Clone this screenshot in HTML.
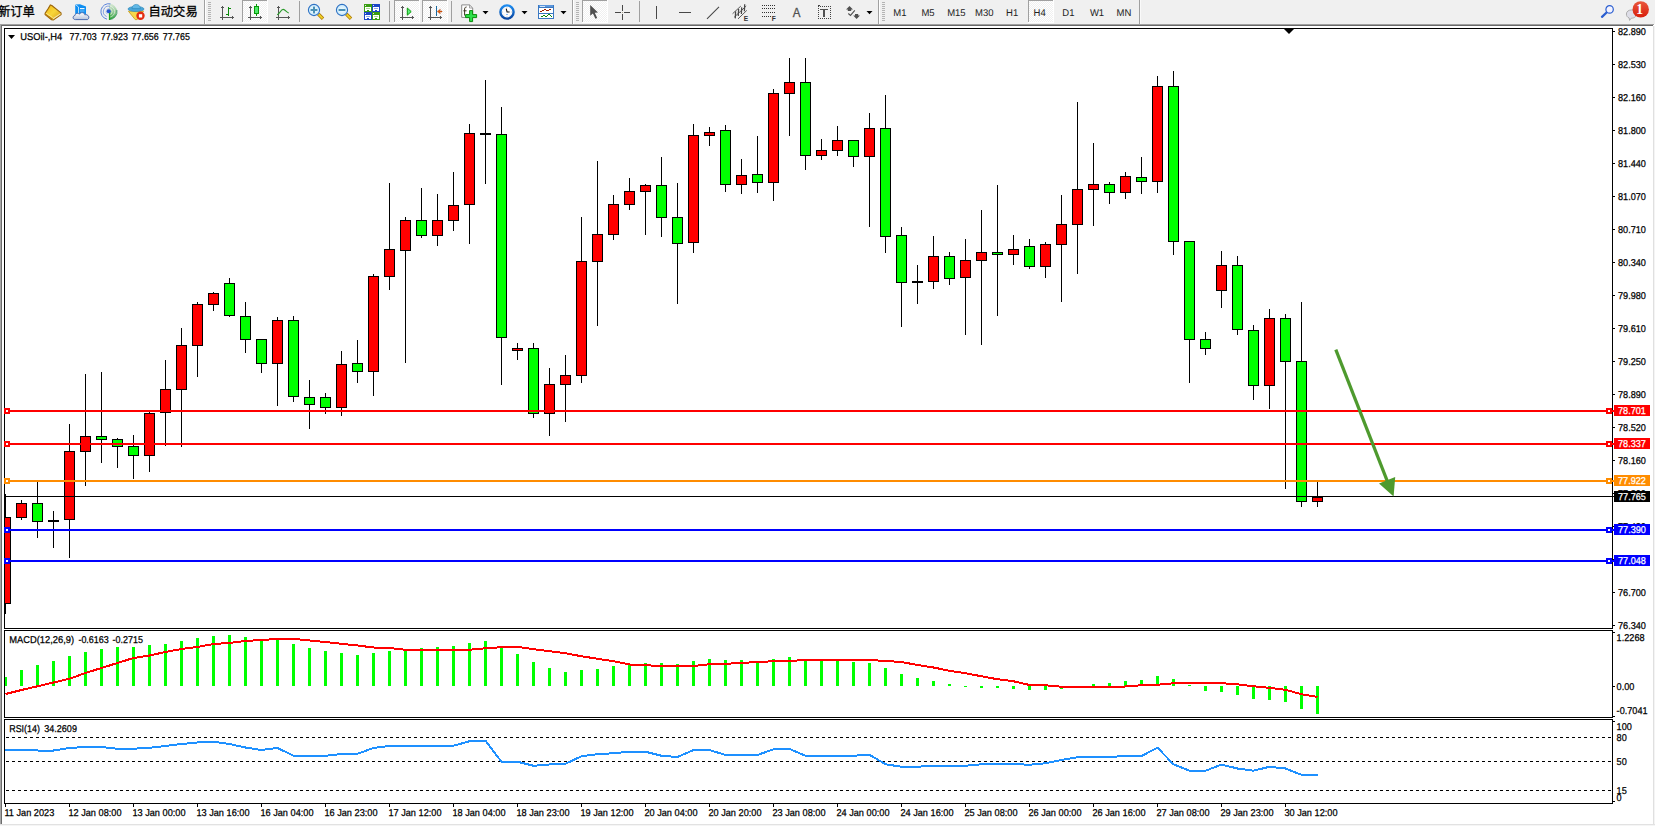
<!DOCTYPE html>
<html lang="zh"><head><meta charset="utf-8"><title>USOil H4</title>
<style>
html,body{margin:0;padding:0;background:#fff;overflow:hidden}
body{width:1655px;height:826px;position:relative;font-family:"Liberation Sans","Noto Sans CJK SC",sans-serif}
svg{position:absolute;left:0;top:0;display:block}
.t{text-rendering:geometricPrecision;stroke:#000;stroke-width:.25px;font-family:"Liberation Sans","Noto Sans CJK SC",sans-serif;font-size:9.9px;fill:#000}
.w{fill:#fff;stroke:#fff}
.cj{stroke:#000;stroke-width:.3px;font-family:"Liberation Sans","Noto Sans CJK SC",sans-serif;font-size:12.3px;fill:#000}
.tf{text-rendering:geometricPrecision;font-family:"Liberation Sans","Noto Sans CJK SC",sans-serif;font-size:9.8px;fill:#222}
</style></head><body>
<svg width="1655" height="826" viewBox="0 0 1655 826">

<g shape-rendering="crispEdges">
<rect x="0" y="0" width="1655" height="826" fill="#ffffff"/>
<rect x="0" y="0" width="1655" height="24" fill="#f0f0f0"/>
<rect x="0" y="24" width="1654" height="1" fill="#a0a0a0"/>
<rect x="0" y="25" width="1653" height="1" fill="#686868"/>
<rect x="0" y="25" width="1" height="801" fill="#a6a6a6"/><rect x="1" y="25" width="1" height="801" fill="#6d6d6d"/>
<rect x="1653" y="26" width="1" height="800" fill="#e0e0e0"/>
<rect x="1654" y="26" width="1" height="800" fill="#f4f4f4"/>
<rect x="0" y="824" width="1655" height="1" fill="#e2e2e2"/>
<rect x="0" y="825" width="1655" height="1" fill="#f5f5f5"/>
<rect x="4" y="28" width="1609" height="1" fill="#000"/>
<rect x="4" y="28" width="1" height="776" fill="#000"/>
<rect x="1612" y="28" width="1" height="776" fill="#000"/>
<rect x="4" y="628" width="1609" height="1" fill="#000"/>
<rect x="4" y="629" width="1609" height="1" fill="#fff"/>
<rect x="4" y="630" width="1609" height="1" fill="#000"/>
<rect x="4" y="717" width="1609" height="1" fill="#000"/>
<rect x="4" y="718" width="1609" height="1" fill="#fff"/>
<rect x="4" y="719" width="1609" height="1" fill="#000"/>
<rect x="4" y="803" width="1609" height="1" fill="#000"/>
</g>
<g shape-rendering="crispEdges">
<rect x="5" y="494" width="1" height="120" fill="#000"/>
<rect x="5" y="517" width="6" height="87" fill="#000"/>
<rect x="5" y="518" width="5" height="85" fill="#ff0000"/>
<rect x="21" y="500" width="1" height="20" fill="#000"/>
<rect x="16" y="503" width="11" height="15" fill="#000"/>
<rect x="17" y="504" width="9" height="13" fill="#ff0000"/>
<rect x="37" y="481" width="1" height="57" fill="#000"/>
<rect x="32" y="503" width="11" height="19" fill="#000"/>
<rect x="33" y="504" width="9" height="17" fill="#00ff00"/>
<rect x="53" y="511" width="1" height="37" fill="#000"/>
<rect x="48" y="520" width="11" height="2" fill="#000"/>
<rect x="69" y="424" width="1" height="134" fill="#000"/>
<rect x="64" y="451" width="11" height="69" fill="#000"/>
<rect x="65" y="452" width="9" height="67" fill="#ff0000"/>
<rect x="85" y="374" width="1" height="112" fill="#000"/>
<rect x="80" y="436" width="11" height="16" fill="#000"/>
<rect x="81" y="437" width="9" height="14" fill="#ff0000"/>
<rect x="101" y="372" width="1" height="91" fill="#000"/>
<rect x="96" y="436" width="11" height="4" fill="#000"/>
<rect x="97" y="437" width="9" height="2" fill="#00ff00"/>
<rect x="117" y="438" width="1" height="30" fill="#000"/>
<rect x="112" y="439" width="11" height="8" fill="#000"/>
<rect x="113" y="440" width="9" height="6" fill="#00ff00"/>
<rect x="133" y="435" width="1" height="44" fill="#000"/>
<rect x="128" y="446" width="11" height="10" fill="#000"/>
<rect x="129" y="447" width="9" height="8" fill="#00ff00"/>
<rect x="149" y="412" width="1" height="60" fill="#000"/>
<rect x="144" y="413" width="11" height="43" fill="#000"/>
<rect x="145" y="414" width="9" height="41" fill="#ff0000"/>
<rect x="165" y="360" width="1" height="86" fill="#000"/>
<rect x="160" y="389" width="11" height="24" fill="#000"/>
<rect x="161" y="390" width="9" height="22" fill="#ff0000"/>
<rect x="181" y="328" width="1" height="119" fill="#000"/>
<rect x="176" y="345" width="11" height="45" fill="#000"/>
<rect x="177" y="346" width="9" height="43" fill="#ff0000"/>
<rect x="197" y="302" width="1" height="75" fill="#000"/>
<rect x="192" y="304" width="11" height="42" fill="#000"/>
<rect x="193" y="305" width="9" height="40" fill="#ff0000"/>
<rect x="213" y="292" width="1" height="19" fill="#000"/>
<rect x="208" y="293" width="11" height="12" fill="#000"/>
<rect x="209" y="294" width="9" height="10" fill="#ff0000"/>
<rect x="229" y="278" width="1" height="39" fill="#000"/>
<rect x="224" y="283" width="11" height="33" fill="#000"/>
<rect x="225" y="284" width="9" height="31" fill="#00ff00"/>
<rect x="245" y="302" width="1" height="51" fill="#000"/>
<rect x="240" y="316" width="11" height="24" fill="#000"/>
<rect x="241" y="317" width="9" height="22" fill="#00ff00"/>
<rect x="261" y="339" width="1" height="34" fill="#000"/>
<rect x="256" y="339" width="11" height="25" fill="#000"/>
<rect x="257" y="340" width="9" height="23" fill="#00ff00"/>
<rect x="277" y="317" width="1" height="89" fill="#000"/>
<rect x="272" y="320" width="11" height="44" fill="#000"/>
<rect x="273" y="321" width="9" height="42" fill="#ff0000"/>
<rect x="293" y="316" width="1" height="86" fill="#000"/>
<rect x="288" y="320" width="11" height="77" fill="#000"/>
<rect x="289" y="321" width="9" height="75" fill="#00ff00"/>
<rect x="309" y="380" width="1" height="49" fill="#000"/>
<rect x="304" y="397" width="11" height="8" fill="#000"/>
<rect x="305" y="398" width="9" height="6" fill="#00ff00"/>
<rect x="325" y="393" width="1" height="21" fill="#000"/>
<rect x="320" y="397" width="11" height="11" fill="#000"/>
<rect x="321" y="398" width="9" height="9" fill="#00ff00"/>
<rect x="341" y="351" width="1" height="65" fill="#000"/>
<rect x="336" y="364" width="11" height="44" fill="#000"/>
<rect x="337" y="365" width="9" height="42" fill="#ff0000"/>
<rect x="357" y="340" width="1" height="43" fill="#000"/>
<rect x="352" y="363" width="11" height="9" fill="#000"/>
<rect x="353" y="364" width="9" height="7" fill="#00ff00"/>
<rect x="373" y="274" width="1" height="122" fill="#000"/>
<rect x="368" y="276" width="11" height="96" fill="#000"/>
<rect x="369" y="277" width="9" height="94" fill="#ff0000"/>
<rect x="389" y="183" width="1" height="107" fill="#000"/>
<rect x="384" y="249" width="11" height="28" fill="#000"/>
<rect x="385" y="250" width="9" height="26" fill="#ff0000"/>
<rect x="405" y="217" width="1" height="146" fill="#000"/>
<rect x="400" y="220" width="11" height="31" fill="#000"/>
<rect x="401" y="221" width="9" height="29" fill="#ff0000"/>
<rect x="421" y="188" width="1" height="50" fill="#000"/>
<rect x="416" y="220" width="11" height="16" fill="#000"/>
<rect x="417" y="221" width="9" height="14" fill="#00ff00"/>
<rect x="437" y="194" width="1" height="52" fill="#000"/>
<rect x="432" y="220" width="11" height="16" fill="#000"/>
<rect x="433" y="221" width="9" height="14" fill="#ff0000"/>
<rect x="453" y="172" width="1" height="59" fill="#000"/>
<rect x="448" y="205" width="11" height="16" fill="#000"/>
<rect x="449" y="206" width="9" height="14" fill="#ff0000"/>
<rect x="469" y="124" width="1" height="120" fill="#000"/>
<rect x="464" y="133" width="11" height="72" fill="#000"/>
<rect x="465" y="134" width="9" height="70" fill="#ff0000"/>
<rect x="485" y="80" width="1" height="104" fill="#000"/>
<rect x="480" y="133" width="11" height="2" fill="#000"/>
<rect x="501" y="107" width="1" height="278" fill="#000"/>
<rect x="496" y="134" width="11" height="204" fill="#000"/>
<rect x="497" y="135" width="9" height="202" fill="#00ff00"/>
<rect x="517" y="343" width="1" height="17" fill="#000"/>
<rect x="512" y="348" width="11" height="3" fill="#000"/>
<rect x="513" y="349" width="9" height="1" fill="#ff0000"/>
<rect x="533" y="343" width="1" height="75" fill="#000"/>
<rect x="528" y="348" width="11" height="66" fill="#000"/>
<rect x="529" y="349" width="9" height="64" fill="#00ff00"/>
<rect x="549" y="368" width="1" height="68" fill="#000"/>
<rect x="544" y="384" width="11" height="30" fill="#000"/>
<rect x="545" y="385" width="9" height="28" fill="#ff0000"/>
<rect x="565" y="355" width="1" height="67" fill="#000"/>
<rect x="560" y="375" width="11" height="10" fill="#000"/>
<rect x="561" y="376" width="9" height="8" fill="#ff0000"/>
<rect x="581" y="217" width="1" height="166" fill="#000"/>
<rect x="576" y="261" width="11" height="115" fill="#000"/>
<rect x="577" y="262" width="9" height="113" fill="#ff0000"/>
<rect x="597" y="161" width="1" height="165" fill="#000"/>
<rect x="592" y="234" width="11" height="28" fill="#000"/>
<rect x="593" y="235" width="9" height="26" fill="#ff0000"/>
<rect x="613" y="195" width="1" height="45" fill="#000"/>
<rect x="608" y="204" width="11" height="31" fill="#000"/>
<rect x="609" y="205" width="9" height="29" fill="#ff0000"/>
<rect x="629" y="178" width="1" height="32" fill="#000"/>
<rect x="624" y="191" width="11" height="14" fill="#000"/>
<rect x="625" y="192" width="9" height="12" fill="#ff0000"/>
<rect x="645" y="184" width="1" height="51" fill="#000"/>
<rect x="640" y="185" width="11" height="7" fill="#000"/>
<rect x="641" y="186" width="9" height="5" fill="#ff0000"/>
<rect x="661" y="157" width="1" height="80" fill="#000"/>
<rect x="656" y="185" width="11" height="33" fill="#000"/>
<rect x="657" y="186" width="9" height="31" fill="#00ff00"/>
<rect x="677" y="183" width="1" height="121" fill="#000"/>
<rect x="672" y="217" width="11" height="27" fill="#000"/>
<rect x="673" y="218" width="9" height="25" fill="#00ff00"/>
<rect x="693" y="124" width="1" height="129" fill="#000"/>
<rect x="688" y="135" width="11" height="108" fill="#000"/>
<rect x="689" y="136" width="9" height="106" fill="#ff0000"/>
<rect x="709" y="127" width="1" height="19" fill="#000"/>
<rect x="704" y="132" width="11" height="4" fill="#000"/>
<rect x="705" y="133" width="9" height="2" fill="#ff0000"/>
<rect x="725" y="125" width="1" height="67" fill="#000"/>
<rect x="720" y="130" width="11" height="55" fill="#000"/>
<rect x="721" y="131" width="9" height="53" fill="#00ff00"/>
<rect x="741" y="159" width="1" height="35" fill="#000"/>
<rect x="736" y="175" width="11" height="10" fill="#000"/>
<rect x="737" y="176" width="9" height="8" fill="#ff0000"/>
<rect x="757" y="136" width="1" height="57" fill="#000"/>
<rect x="752" y="174" width="11" height="9" fill="#000"/>
<rect x="753" y="175" width="9" height="7" fill="#00ff00"/>
<rect x="773" y="89" width="1" height="112" fill="#000"/>
<rect x="768" y="93" width="11" height="90" fill="#000"/>
<rect x="769" y="94" width="9" height="88" fill="#ff0000"/>
<rect x="789" y="58" width="1" height="78" fill="#000"/>
<rect x="784" y="82" width="11" height="12" fill="#000"/>
<rect x="785" y="83" width="9" height="10" fill="#ff0000"/>
<rect x="805" y="58" width="1" height="112" fill="#000"/>
<rect x="800" y="82" width="11" height="74" fill="#000"/>
<rect x="801" y="83" width="9" height="72" fill="#00ff00"/>
<rect x="821" y="139" width="1" height="21" fill="#000"/>
<rect x="816" y="150" width="11" height="6" fill="#000"/>
<rect x="817" y="151" width="9" height="4" fill="#ff0000"/>
<rect x="837" y="126" width="1" height="30" fill="#000"/>
<rect x="832" y="140" width="11" height="11" fill="#000"/>
<rect x="833" y="141" width="9" height="9" fill="#ff0000"/>
<rect x="853" y="140" width="1" height="27" fill="#000"/>
<rect x="848" y="140" width="11" height="17" fill="#000"/>
<rect x="849" y="141" width="9" height="15" fill="#00ff00"/>
<rect x="869" y="113" width="1" height="114" fill="#000"/>
<rect x="864" y="128" width="11" height="29" fill="#000"/>
<rect x="865" y="129" width="9" height="27" fill="#ff0000"/>
<rect x="885" y="95" width="1" height="158" fill="#000"/>
<rect x="880" y="128" width="11" height="109" fill="#000"/>
<rect x="881" y="129" width="9" height="107" fill="#00ff00"/>
<rect x="901" y="227" width="1" height="100" fill="#000"/>
<rect x="896" y="235" width="11" height="48" fill="#000"/>
<rect x="897" y="236" width="9" height="46" fill="#00ff00"/>
<rect x="917" y="265" width="1" height="39" fill="#000"/>
<rect x="912" y="281" width="11" height="2" fill="#000"/>
<rect x="933" y="236" width="1" height="53" fill="#000"/>
<rect x="928" y="256" width="11" height="26" fill="#000"/>
<rect x="929" y="257" width="9" height="24" fill="#ff0000"/>
<rect x="949" y="252" width="1" height="33" fill="#000"/>
<rect x="944" y="256" width="11" height="23" fill="#000"/>
<rect x="945" y="257" width="9" height="21" fill="#00ff00"/>
<rect x="965" y="239" width="1" height="96" fill="#000"/>
<rect x="960" y="260" width="11" height="18" fill="#000"/>
<rect x="961" y="261" width="9" height="16" fill="#ff0000"/>
<rect x="981" y="210" width="1" height="135" fill="#000"/>
<rect x="976" y="252" width="11" height="9" fill="#000"/>
<rect x="977" y="253" width="9" height="7" fill="#ff0000"/>
<rect x="997" y="185" width="1" height="131" fill="#000"/>
<rect x="992" y="252" width="11" height="3" fill="#000"/>
<rect x="993" y="253" width="9" height="1" fill="#00ff00"/>
<rect x="1013" y="235" width="1" height="30" fill="#000"/>
<rect x="1008" y="249" width="11" height="6" fill="#000"/>
<rect x="1009" y="250" width="9" height="4" fill="#ff0000"/>
<rect x="1029" y="239" width="1" height="30" fill="#000"/>
<rect x="1024" y="246" width="11" height="21" fill="#000"/>
<rect x="1025" y="247" width="9" height="19" fill="#00ff00"/>
<rect x="1045" y="242" width="1" height="36" fill="#000"/>
<rect x="1040" y="244" width="11" height="23" fill="#000"/>
<rect x="1041" y="245" width="9" height="21" fill="#ff0000"/>
<rect x="1061" y="195" width="1" height="107" fill="#000"/>
<rect x="1056" y="224" width="11" height="21" fill="#000"/>
<rect x="1057" y="225" width="9" height="19" fill="#ff0000"/>
<rect x="1077" y="102" width="1" height="172" fill="#000"/>
<rect x="1072" y="189" width="11" height="36" fill="#000"/>
<rect x="1073" y="190" width="9" height="34" fill="#ff0000"/>
<rect x="1093" y="143" width="1" height="83" fill="#000"/>
<rect x="1088" y="184" width="11" height="6" fill="#000"/>
<rect x="1089" y="185" width="9" height="4" fill="#ff0000"/>
<rect x="1109" y="182" width="1" height="22" fill="#000"/>
<rect x="1104" y="184" width="11" height="9" fill="#000"/>
<rect x="1105" y="185" width="9" height="7" fill="#00ff00"/>
<rect x="1125" y="172" width="1" height="27" fill="#000"/>
<rect x="1120" y="176" width="11" height="17" fill="#000"/>
<rect x="1121" y="177" width="9" height="15" fill="#ff0000"/>
<rect x="1141" y="157" width="1" height="37" fill="#000"/>
<rect x="1136" y="177" width="11" height="5" fill="#000"/>
<rect x="1137" y="178" width="9" height="3" fill="#00ff00"/>
<rect x="1157" y="76" width="1" height="117" fill="#000"/>
<rect x="1152" y="86" width="11" height="96" fill="#000"/>
<rect x="1153" y="87" width="9" height="94" fill="#ff0000"/>
<rect x="1173" y="71" width="1" height="184" fill="#000"/>
<rect x="1168" y="86" width="11" height="156" fill="#000"/>
<rect x="1169" y="87" width="9" height="154" fill="#00ff00"/>
<rect x="1189" y="241" width="1" height="142" fill="#000"/>
<rect x="1184" y="241" width="11" height="99" fill="#000"/>
<rect x="1185" y="242" width="9" height="97" fill="#00ff00"/>
<rect x="1205" y="332" width="1" height="23" fill="#000"/>
<rect x="1200" y="339" width="11" height="10" fill="#000"/>
<rect x="1201" y="340" width="9" height="8" fill="#00ff00"/>
<rect x="1221" y="251" width="1" height="57" fill="#000"/>
<rect x="1216" y="265" width="11" height="26" fill="#000"/>
<rect x="1217" y="266" width="9" height="24" fill="#ff0000"/>
<rect x="1237" y="256" width="1" height="79" fill="#000"/>
<rect x="1232" y="265" width="11" height="65" fill="#000"/>
<rect x="1233" y="266" width="9" height="63" fill="#00ff00"/>
<rect x="1253" y="325" width="1" height="75" fill="#000"/>
<rect x="1248" y="330" width="11" height="56" fill="#000"/>
<rect x="1249" y="331" width="9" height="54" fill="#00ff00"/>
<rect x="1269" y="309" width="1" height="100" fill="#000"/>
<rect x="1264" y="318" width="11" height="68" fill="#000"/>
<rect x="1265" y="319" width="9" height="66" fill="#ff0000"/>
<rect x="1285" y="314" width="1" height="175" fill="#000"/>
<rect x="1280" y="318" width="11" height="44" fill="#000"/>
<rect x="1281" y="319" width="9" height="42" fill="#00ff00"/>
<rect x="1301" y="302" width="1" height="205" fill="#000"/>
<rect x="1296" y="361" width="11" height="141" fill="#000"/>
<rect x="1297" y="362" width="9" height="139" fill="#00ff00"/>
<rect x="1317" y="482" width="1" height="25" fill="#000"/>
<rect x="1312" y="497" width="11" height="5" fill="#000"/>
<rect x="1313" y="498" width="9" height="3" fill="#ff0000"/>
<rect x="5" y="496" width="1609" height="1" fill="#000"/>
<rect x="5" y="410" width="1609" height="2" fill="#ff0000"/>
<rect x="5" y="443" width="1609" height="2" fill="#ff0000"/>
<rect x="5" y="480" width="1609" height="2" fill="#ff8c00"/>
<rect x="5" y="529" width="1609" height="2" fill="#0000ff"/>
<rect x="5" y="560" width="1609" height="2" fill="#0000ff"/>
<rect x="4" y="408" width="6" height="6" fill="#ff0000"/><rect x="6" y="410" width="2" height="2" fill="#fff"/>
<rect x="1606" y="408" width="6" height="6" fill="#ff0000"/><rect x="1608" y="410" width="2" height="2" fill="#fff"/>
<rect x="4" y="441" width="6" height="6" fill="#ff0000"/><rect x="6" y="443" width="2" height="2" fill="#fff"/>
<rect x="1606" y="441" width="6" height="6" fill="#ff0000"/><rect x="1608" y="443" width="2" height="2" fill="#fff"/>
<rect x="4" y="478" width="6" height="6" fill="#ff8c00"/><rect x="6" y="480" width="2" height="2" fill="#fff"/>
<rect x="1606" y="478" width="6" height="6" fill="#ff8c00"/><rect x="1608" y="480" width="2" height="2" fill="#fff"/>
<rect x="4" y="527" width="6" height="6" fill="#0000ff"/><rect x="6" y="529" width="2" height="2" fill="#fff"/>
<rect x="1606" y="527" width="6" height="6" fill="#0000ff"/><rect x="1608" y="529" width="2" height="2" fill="#fff"/>
<rect x="4" y="558" width="6" height="6" fill="#0000ff"/><rect x="6" y="560" width="2" height="2" fill="#fff"/>
<rect x="1606" y="558" width="6" height="6" fill="#0000ff"/><rect x="1608" y="560" width="2" height="2" fill="#fff"/>
</g>
<g fill="#4e9a2e" stroke="none"><path d="M1334.3,350.2 L1337.3,349.0 L1389.2,481.5 L1386.2,482.7 Z"/><path d="M1393.6,496.5 L1379,483.5 L1395.2,477 Z"/></g>
<path d="M1284,29 L1294,29 L1289,34 Z" fill="#000"/>
<g shape-rendering="crispEdges">
<rect x="1613" y="31" width="2" height="1" fill="#000"/>
<rect x="1613" y="64" width="2" height="1" fill="#000"/>
<rect x="1613" y="97" width="2" height="1" fill="#000"/>
<rect x="1613" y="130" width="2" height="1" fill="#000"/>
<rect x="1613" y="163" width="2" height="1" fill="#000"/>
<rect x="1613" y="196" width="2" height="1" fill="#000"/>
<rect x="1613" y="229" width="2" height="1" fill="#000"/>
<rect x="1613" y="262" width="2" height="1" fill="#000"/>
<rect x="1613" y="295" width="2" height="1" fill="#000"/>
<rect x="1613" y="328" width="2" height="1" fill="#000"/>
<rect x="1613" y="361" width="2" height="1" fill="#000"/>
<rect x="1613" y="394" width="2" height="1" fill="#000"/>
<rect x="1613" y="427" width="2" height="1" fill="#000"/>
<rect x="1613" y="460" width="2" height="1" fill="#000"/>
<rect x="1613" y="493" width="2" height="1" fill="#000"/>
<rect x="1613" y="526" width="2" height="1" fill="#000"/>
<rect x="1613" y="559" width="2" height="1" fill="#000"/>
<rect x="1613" y="592" width="2" height="1" fill="#000"/>
<rect x="1613" y="625" width="2" height="1" fill="#000"/>
<rect x="1613" y="632" width="2" height="1" fill="#000"/>
<rect x="1613" y="686" width="2" height="1" fill="#000"/>
<rect x="1613" y="716" width="2" height="1" fill="#000"/>
<rect x="1613" y="721" width="2" height="1" fill="#000"/>
<rect x="1613" y="801" width="2" height="1" fill="#000"/>
</g>
<text class="t" transform="translate(1618,35) scale(0.925,1)" xml:space="preserve">82.890</text>
<text class="t" transform="translate(1618,68) scale(0.925,1)" xml:space="preserve">82.530</text>
<text class="t" transform="translate(1618,101) scale(0.925,1)" xml:space="preserve">82.160</text>
<text class="t" transform="translate(1618,134) scale(0.925,1)" xml:space="preserve">81.800</text>
<text class="t" transform="translate(1618,167) scale(0.925,1)" xml:space="preserve">81.440</text>
<text class="t" transform="translate(1618,200) scale(0.925,1)" xml:space="preserve">81.070</text>
<text class="t" transform="translate(1618,233) scale(0.925,1)" xml:space="preserve">80.710</text>
<text class="t" transform="translate(1618,266) scale(0.925,1)" xml:space="preserve">80.340</text>
<text class="t" transform="translate(1618,299) scale(0.925,1)" xml:space="preserve">79.980</text>
<text class="t" transform="translate(1618,332) scale(0.925,1)" xml:space="preserve">79.610</text>
<text class="t" transform="translate(1618,365) scale(0.925,1)" xml:space="preserve">79.250</text>
<text class="t" transform="translate(1618,398) scale(0.925,1)" xml:space="preserve">78.890</text>
<text class="t" transform="translate(1618,431) scale(0.925,1)" xml:space="preserve">78.520</text>
<text class="t" transform="translate(1618,464) scale(0.925,1)" xml:space="preserve">78.160</text>
<text class="t" transform="translate(1618,497) scale(0.925,1)" xml:space="preserve">77.800</text>
<text class="t" transform="translate(1618,530) scale(0.925,1)" xml:space="preserve">77.430</text>
<text class="t" transform="translate(1618,563) scale(0.925,1)" xml:space="preserve">77.070</text>
<text class="t" transform="translate(1618,596) scale(0.925,1)" xml:space="preserve">76.700</text>
<text class="t" transform="translate(1618,629) scale(0.925,1)" xml:space="preserve">76.340</text>
<rect x="1614" y="405" width="36" height="11" fill="#ff0000" shape-rendering="crispEdges"/><text class="t w" transform="translate(1618,414) scale(0.925,1)" xml:space="preserve">78.701</text>
<rect x="1614" y="438" width="36" height="11" fill="#ff0000" shape-rendering="crispEdges"/><text class="t w" transform="translate(1618,447) scale(0.925,1)" xml:space="preserve">78.337</text>
<rect x="1614" y="475" width="36" height="11" fill="#ff8c00" shape-rendering="crispEdges"/><text class="t w" transform="translate(1618,484) scale(0.925,1)" xml:space="preserve">77.922</text>
<rect x="1614" y="491" width="36" height="11" fill="#000" shape-rendering="crispEdges"/><text class="t w" transform="translate(1618,500) scale(0.925,1)" xml:space="preserve">77.765</text>
<rect x="1614" y="524" width="36" height="11" fill="#0000ff" shape-rendering="crispEdges"/><text class="t w" transform="translate(1618,533) scale(0.925,1)" xml:space="preserve">77.390</text>
<rect x="1614" y="555" width="36" height="11" fill="#0000ff" shape-rendering="crispEdges"/><text class="t w" transform="translate(1618,564) scale(0.925,1)" xml:space="preserve">77.048</text>
<text class="t" transform="translate(1616.6,641.4) scale(0.925,1)" xml:space="preserve">1.2268</text>
<text class="t" transform="translate(1616.6,690.4) scale(0.925,1)" xml:space="preserve">0.00</text>
<text class="t" transform="translate(1616.6,714.4) scale(0.925,1)" xml:space="preserve">-0.7041</text>
<text class="t" transform="translate(1616.6,730.4) scale(0.925,1)" xml:space="preserve">100</text>
<text class="t" transform="translate(1616.6,741.4) scale(0.925,1)" xml:space="preserve">80</text>
<text class="t" transform="translate(1616.6,765.4) scale(0.925,1)" xml:space="preserve">50</text>
<text class="t" transform="translate(1616.6,794.4) scale(0.925,1)" xml:space="preserve">15</text>
<text class="t" transform="translate(1616.6,801.4) scale(0.925,1)" xml:space="preserve">0</text>
<path d="M8,35 L15,35 L11.5,39 Z" fill="#000"/>
<text class="t" transform="translate(20.20,40) scale(0.9473,1)" xml:space="preserve">USOil-,H4</text>
<text class="t" transform="translate(69.50,40) scale(0.8979,1)" xml:space="preserve">77.703</text>
<text class="t" transform="translate(100.70,40) scale(0.8979,1)" xml:space="preserve">77.923</text>
<text class="t" transform="translate(131.60,40) scale(0.8979,1)" xml:space="preserve">77.656</text>
<text class="t" transform="translate(162.70,40) scale(0.8979,1)" xml:space="preserve">77.765</text>
<text class="t" transform="translate(9.20,643) scale(0.9454,1)" xml:space="preserve">MACD(12,26,9)</text>
<text class="t" transform="translate(78.40,643) scale(0.9058,1)" xml:space="preserve">-0.6163</text>
<text class="t" transform="translate(112.60,643) scale(0.9058,1)" xml:space="preserve">-0.2715</text>
<text class="t" transform="translate(9.20,732) scale(0.9031,1)" xml:space="preserve">RSI(14)</text>
<text class="t" transform="translate(44.20,732) scale(0.9165,1)" xml:space="preserve">34.2609</text>
<g shape-rendering="crispEdges">
<rect x="5" y="677" width="2" height="9" fill="#00ff00"/>
<rect x="20" y="670" width="3" height="16" fill="#00ff00"/>
<rect x="36" y="665" width="3" height="21" fill="#00ff00"/>
<rect x="52" y="661" width="3" height="25" fill="#00ff00"/>
<rect x="68" y="656" width="3" height="30" fill="#00ff00"/>
<rect x="84" y="652" width="3" height="34" fill="#00ff00"/>
<rect x="100" y="649" width="3" height="37" fill="#00ff00"/>
<rect x="116" y="647" width="3" height="39" fill="#00ff00"/>
<rect x="132" y="647" width="3" height="39" fill="#00ff00"/>
<rect x="148" y="645" width="3" height="41" fill="#00ff00"/>
<rect x="164" y="644" width="3" height="42" fill="#00ff00"/>
<rect x="180" y="641" width="3" height="45" fill="#00ff00"/>
<rect x="196" y="638" width="3" height="48" fill="#00ff00"/>
<rect x="212" y="636" width="3" height="50" fill="#00ff00"/>
<rect x="228" y="635" width="3" height="51" fill="#00ff00"/>
<rect x="244" y="637" width="3" height="49" fill="#00ff00"/>
<rect x="260" y="639" width="3" height="47" fill="#00ff00"/>
<rect x="276" y="640" width="3" height="46" fill="#00ff00"/>
<rect x="292" y="644" width="3" height="42" fill="#00ff00"/>
<rect x="308" y="648" width="3" height="38" fill="#00ff00"/>
<rect x="324" y="651" width="3" height="35" fill="#00ff00"/>
<rect x="340" y="653" width="3" height="33" fill="#00ff00"/>
<rect x="356" y="655" width="3" height="31" fill="#00ff00"/>
<rect x="372" y="653" width="3" height="33" fill="#00ff00"/>
<rect x="388" y="651" width="3" height="35" fill="#00ff00"/>
<rect x="404" y="650" width="3" height="36" fill="#00ff00"/>
<rect x="420" y="648" width="3" height="38" fill="#00ff00"/>
<rect x="436" y="647" width="3" height="39" fill="#00ff00"/>
<rect x="452" y="646" width="3" height="40" fill="#00ff00"/>
<rect x="468" y="643" width="3" height="43" fill="#00ff00"/>
<rect x="484" y="641" width="3" height="45" fill="#00ff00"/>
<rect x="500" y="648" width="3" height="38" fill="#00ff00"/>
<rect x="516" y="654" width="3" height="32" fill="#00ff00"/>
<rect x="532" y="662" width="3" height="24" fill="#00ff00"/>
<rect x="548" y="668" width="3" height="18" fill="#00ff00"/>
<rect x="564" y="672" width="3" height="14" fill="#00ff00"/>
<rect x="580" y="670" width="3" height="16" fill="#00ff00"/>
<rect x="596" y="669" width="3" height="17" fill="#00ff00"/>
<rect x="612" y="666" width="3" height="20" fill="#00ff00"/>
<rect x="628" y="664" width="3" height="22" fill="#00ff00"/>
<rect x="644" y="663" width="3" height="23" fill="#00ff00"/>
<rect x="660" y="663" width="3" height="23" fill="#00ff00"/>
<rect x="676" y="664" width="3" height="22" fill="#00ff00"/>
<rect x="692" y="661" width="3" height="25" fill="#00ff00"/>
<rect x="708" y="659" width="3" height="27" fill="#00ff00"/>
<rect x="724" y="660" width="3" height="26" fill="#00ff00"/>
<rect x="740" y="660" width="3" height="26" fill="#00ff00"/>
<rect x="756" y="662" width="3" height="24" fill="#00ff00"/>
<rect x="772" y="659" width="3" height="27" fill="#00ff00"/>
<rect x="788" y="657" width="3" height="29" fill="#00ff00"/>
<rect x="804" y="659" width="3" height="27" fill="#00ff00"/>
<rect x="820" y="660" width="3" height="26" fill="#00ff00"/>
<rect x="836" y="660" width="3" height="26" fill="#00ff00"/>
<rect x="852" y="662" width="3" height="24" fill="#00ff00"/>
<rect x="868" y="663" width="3" height="23" fill="#00ff00"/>
<rect x="884" y="668" width="3" height="18" fill="#00ff00"/>
<rect x="900" y="674" width="3" height="12" fill="#00ff00"/>
<rect x="916" y="678" width="3" height="8" fill="#00ff00"/>
<rect x="932" y="681" width="3" height="5" fill="#00ff00"/>
<rect x="948" y="684" width="3" height="2" fill="#00ff00"/>
<rect x="964" y="686" width="3" height="1" fill="#00ff00"/>
<rect x="980" y="686" width="3" height="2" fill="#00ff00"/>
<rect x="996" y="686" width="3" height="2" fill="#00ff00"/>
<rect x="1012" y="686" width="3" height="3" fill="#00ff00"/>
<rect x="1028" y="686" width="3" height="4" fill="#00ff00"/>
<rect x="1044" y="686" width="3" height="4" fill="#00ff00"/>
<rect x="1060" y="686" width="3" height="3" fill="#00ff00"/>
<rect x="1092" y="684" width="3" height="2" fill="#00ff00"/>
<rect x="1108" y="683" width="3" height="3" fill="#00ff00"/>
<rect x="1124" y="681" width="3" height="5" fill="#00ff00"/>
<rect x="1140" y="680" width="3" height="6" fill="#00ff00"/>
<rect x="1156" y="676" width="3" height="10" fill="#00ff00"/>
<rect x="1172" y="679" width="3" height="7" fill="#00ff00"/>
<rect x="1188" y="685" width="3" height="1" fill="#00ff00"/>
<rect x="1204" y="686" width="3" height="5" fill="#00ff00"/>
<rect x="1220" y="686" width="3" height="6" fill="#00ff00"/>
<rect x="1236" y="686" width="3" height="9" fill="#00ff00"/>
<rect x="1252" y="686" width="3" height="13" fill="#00ff00"/>
<rect x="1268" y="686" width="3" height="14" fill="#00ff00"/>
<rect x="1284" y="686" width="3" height="16" fill="#00ff00"/>
<rect x="1300" y="686" width="3" height="23" fill="#00ff00"/>
<rect x="1316" y="686" width="3" height="28" fill="#00ff00"/>
</g>
<polyline points="5.5,694 21.5,690 37.5,686.25 53.5,682.5 69.5,678.75 85.5,673 101.5,668 117.5,663 133.5,658 149.5,655.5 165.5,652 181.5,649 197.5,647 213.5,644 229.5,643 245.5,641 261.5,640 277.5,639 293.5,638.75 309.5,640.5 325.5,642 341.5,643.75 357.5,645.5 373.5,647.5 389.5,648 405.5,649.75 421.5,650 437.5,650 453.5,650 469.5,649.75 485.5,648.25 501.5,647.25 517.5,646.75 533.5,649.25 549.5,651.25 565.5,653.25 581.5,656.25 597.5,658.75 613.5,661.25 629.5,664.5 645.5,665.25 661.5,666 677.5,666 693.5,666 709.5,664.25 725.5,663.75 741.5,663 757.5,662 773.5,661.25 789.5,660.75 805.5,660.25 821.5,660 837.5,660 853.5,660 869.5,660 885.5,661 901.5,662 917.5,665 933.5,667.5 949.5,670.75 965.5,673.25 981.5,676.25 997.5,679.25 1013.5,681.25 1029.5,685 1045.5,685.25 1061.5,686.75 1077.5,687 1093.5,687 1109.5,687 1125.5,686.5 1141.5,685.25 1157.5,684.75 1173.5,683.25 1189.5,683 1205.5,683 1221.5,683.2 1237.5,684.3 1253.5,686.3 1269.5,687.9 1285.5,689.8 1301.5,694.2 1317.5,697" fill="none" stroke="#ff0000" stroke-width="2" stroke-linejoin="round" shape-rendering="crispEdges"/>
<g shape-rendering="crispEdges" stroke="#000" stroke-width="1" stroke-dasharray="3,3">
<line x1="6" y1="737.5" x2="1612" y2="737.5"/>
<line x1="6" y1="761.5" x2="1612" y2="761.5"/>
<line x1="6" y1="790.5" x2="1612" y2="790.5"/>
</g>
<polyline points="5.5,750 21.5,749.75 37.5,750.5 53.5,750.5 69.5,748 85.5,747 101.5,747 117.5,748.75 133.5,748.75 149.5,747.75 165.5,746 181.5,744 197.5,742.5 213.5,741.75 229.5,744 245.5,747.5 261.5,750 277.5,748 293.5,755.75 309.5,755.75 325.5,755.75 341.5,754 357.5,753.75 373.5,748 389.5,746 405.5,745.75 421.5,745.75 437.5,745.75 453.5,745.75 469.5,741.25 485.5,740.75 501.5,761.75 517.5,761.75 533.5,765.75 549.5,764.5 565.5,763.75 581.5,756.25 597.5,754.25 613.5,753.25 629.5,751.75 645.5,751.75 661.5,755.75 677.5,757 693.5,750 709.5,750 725.5,755 741.5,755 757.5,755 773.5,749.25 789.5,749 805.5,755.75 821.5,755.75 837.5,755.75 853.5,755.75 869.5,754.75 885.5,764.25 901.5,766.75 917.5,766.75 933.5,765.75 949.5,765.75 965.5,765.75 981.5,764.25 997.5,764 1013.5,764 1029.5,764.75 1045.5,763.25 1061.5,760 1077.5,757.25 1093.5,757 1109.5,757 1125.5,756 1141.5,756 1157.5,747.75 1173.5,764.25 1189.5,770.75 1205.5,770.75 1221.5,764.6 1237.5,768.5 1253.5,770.7 1269.5,766.8 1285.5,768.5 1301.5,774.8 1317.5,774.8" fill="none" stroke="#1e90ff" stroke-width="2" stroke-linejoin="round" shape-rendering="crispEdges"/>
<g shape-rendering="crispEdges">
<rect x="5" y="804" width="1" height="3" fill="#000"/>
<rect x="69" y="804" width="1" height="3" fill="#000"/>
<rect x="133" y="804" width="1" height="3" fill="#000"/>
<rect x="197" y="804" width="1" height="3" fill="#000"/>
<rect x="261" y="804" width="1" height="3" fill="#000"/>
<rect x="325" y="804" width="1" height="3" fill="#000"/>
<rect x="389" y="804" width="1" height="3" fill="#000"/>
<rect x="453" y="804" width="1" height="3" fill="#000"/>
<rect x="517" y="804" width="1" height="3" fill="#000"/>
<rect x="581" y="804" width="1" height="3" fill="#000"/>
<rect x="645" y="804" width="1" height="3" fill="#000"/>
<rect x="709" y="804" width="1" height="3" fill="#000"/>
<rect x="773" y="804" width="1" height="3" fill="#000"/>
<rect x="837" y="804" width="1" height="3" fill="#000"/>
<rect x="901" y="804" width="1" height="3" fill="#000"/>
<rect x="965" y="804" width="1" height="3" fill="#000"/>
<rect x="1029" y="804" width="1" height="3" fill="#000"/>
<rect x="1093" y="804" width="1" height="3" fill="#000"/>
<rect x="1157" y="804" width="1" height="3" fill="#000"/>
<rect x="1221" y="804" width="1" height="3" fill="#000"/>
<rect x="1285" y="804" width="1" height="3" fill="#000"/>
</g>
<text class="t" transform="translate(4.4,816) scale(0.93,1)" xml:space="preserve">11 Jan 2023</text>
<text class="t" transform="translate(68.4,816) scale(0.93,1)" xml:space="preserve">12 Jan 08:00</text>
<text class="t" transform="translate(132.4,816) scale(0.93,1)" xml:space="preserve">13 Jan 00:00</text>
<text class="t" transform="translate(196.4,816) scale(0.93,1)" xml:space="preserve">13 Jan 16:00</text>
<text class="t" transform="translate(260.4,816) scale(0.93,1)" xml:space="preserve">16 Jan 04:00</text>
<text class="t" transform="translate(324.4,816) scale(0.93,1)" xml:space="preserve">16 Jan 23:00</text>
<text class="t" transform="translate(388.4,816) scale(0.93,1)" xml:space="preserve">17 Jan 12:00</text>
<text class="t" transform="translate(452.4,816) scale(0.93,1)" xml:space="preserve">18 Jan 04:00</text>
<text class="t" transform="translate(516.4,816) scale(0.93,1)" xml:space="preserve">18 Jan 23:00</text>
<text class="t" transform="translate(580.4,816) scale(0.93,1)" xml:space="preserve">19 Jan 12:00</text>
<text class="t" transform="translate(644.4,816) scale(0.93,1)" xml:space="preserve">20 Jan 04:00</text>
<text class="t" transform="translate(708.4,816) scale(0.93,1)" xml:space="preserve">20 Jan 20:00</text>
<text class="t" transform="translate(772.4,816) scale(0.93,1)" xml:space="preserve">23 Jan 08:00</text>
<text class="t" transform="translate(836.4,816) scale(0.93,1)" xml:space="preserve">24 Jan 00:00</text>
<text class="t" transform="translate(900.4,816) scale(0.93,1)" xml:space="preserve">24 Jan 16:00</text>
<text class="t" transform="translate(964.4,816) scale(0.93,1)" xml:space="preserve">25 Jan 08:00</text>
<text class="t" transform="translate(1028.4,816) scale(0.93,1)" xml:space="preserve">26 Jan 00:00</text>
<text class="t" transform="translate(1092.4,816) scale(0.93,1)" xml:space="preserve">26 Jan 16:00</text>
<text class="t" transform="translate(1156.4,816) scale(0.93,1)" xml:space="preserve">27 Jan 08:00</text>
<text class="t" transform="translate(1220.4,816) scale(0.93,1)" xml:space="preserve">29 Jan 23:00</text>
<text class="t" transform="translate(1284.4,816) scale(0.93,1)" xml:space="preserve">30 Jan 12:00</text>
<defs><pattern id="chk" width="2" height="2" patternUnits="userSpaceOnUse"><rect width="2" height="2" fill="#f0f0f0"/><rect width="1" height="1" fill="#fff"/><rect x="1" y="1" width="1" height="1" fill="#fff"/></pattern>
<linearGradient id="gold" x1="0" y1="0" x2="1" y2="1"><stop offset="0" stop-color="#f2b50f"/><stop offset=".5" stop-color="#f7d63a"/><stop offset="1" stop-color="#d99a10"/></linearGradient>
<linearGradient id="cloud" x1="0" y1="0" x2="0" y2="1"><stop offset="0" stop-color="#ffffff"/><stop offset="1" stop-color="#b8c4dc"/></linearGradient>
<linearGradient id="badge" x1="0" y1="0" x2="0" y2="1"><stop offset="0" stop-color="#e9583c"/><stop offset="1" stop-color="#d81e0c"/></linearGradient>
<radialGradient id="lens" cx=".5" cy=".5" r=".6"><stop offset="0" stop-color="#f4fbff"/><stop offset="1" stop-color="#bfe6fa"/></radialGradient>
<linearGradient id="clk" x1="0" y1="0" x2="0" y2="1"><stop offset="0" stop-color="#1e8cf0"/><stop offset="1" stop-color="#0a46a0"/></linearGradient>
<linearGradient id="grn" x1="0" y1="0" x2="1" y2="0"><stop offset="0" stop-color="#7dff9a"/><stop offset="1" stop-color="#18d23c"/></linearGradient>
</defs>
<g shape-rendering="crispEdges">
<rect x="242" y="0" width="26" height="23" fill="url(#chk)"/>
<rect x="242" y="0" width="1" height="23" fill="#a0a0a0"/>
<rect x="242" y="0" width="25" height="1" fill="#a0a0a0"/>
<rect x="267" y="0" width="1" height="23" fill="#fff"/>
<rect x="242" y="22" width="26" height="1" fill="#fff"/>
<rect x="394" y="0" width="26" height="23" fill="url(#chk)"/>
<rect x="394" y="0" width="1" height="23" fill="#a0a0a0"/>
<rect x="394" y="0" width="25" height="1" fill="#a0a0a0"/>
<rect x="419" y="0" width="1" height="23" fill="#fff"/>
<rect x="394" y="22" width="26" height="1" fill="#fff"/>
<rect x="422" y="0" width="26" height="23" fill="url(#chk)"/>
<rect x="422" y="0" width="1" height="23" fill="#a0a0a0"/>
<rect x="422" y="0" width="25" height="1" fill="#a0a0a0"/>
<rect x="447" y="0" width="1" height="23" fill="#fff"/>
<rect x="422" y="22" width="26" height="1" fill="#fff"/>
<rect x="582" y="0" width="26" height="23" fill="url(#chk)"/>
<rect x="582" y="0" width="1" height="23" fill="#a0a0a0"/>
<rect x="582" y="0" width="25" height="1" fill="#a0a0a0"/>
<rect x="607" y="0" width="1" height="23" fill="#fff"/>
<rect x="582" y="22" width="26" height="1" fill="#fff"/>
<rect x="1028" y="0" width="26" height="23" fill="url(#chk)"/>
<rect x="1028" y="0" width="1" height="23" fill="#a0a0a0"/>
<rect x="1028" y="0" width="25" height="1" fill="#a0a0a0"/>
<rect x="1053" y="0" width="1" height="23" fill="#fff"/>
<rect x="1028" y="22" width="26" height="1" fill="#fff"/>
<rect x="204" y="0" width="1" height="24" fill="#a0a0a0"/>
<rect x="205" y="0" width="1" height="24" fill="#fff"/>
<rect x="208" y="2" width="3" height="1" fill="#b4b4b4"/>
<rect x="208" y="4" width="3" height="1" fill="#b4b4b4"/>
<rect x="208" y="6" width="3" height="1" fill="#b4b4b4"/>
<rect x="208" y="8" width="3" height="1" fill="#b4b4b4"/>
<rect x="208" y="10" width="3" height="1" fill="#b4b4b4"/>
<rect x="208" y="12" width="3" height="1" fill="#b4b4b4"/>
<rect x="208" y="14" width="3" height="1" fill="#b4b4b4"/>
<rect x="208" y="16" width="3" height="1" fill="#b4b4b4"/>
<rect x="208" y="18" width="3" height="1" fill="#b4b4b4"/>
<rect x="208" y="20" width="3" height="1" fill="#b4b4b4"/>
<rect x="572" y="0" width="1" height="24" fill="#a0a0a0"/>
<rect x="573" y="0" width="1" height="24" fill="#fff"/>
<rect x="576" y="2" width="3" height="1" fill="#b4b4b4"/>
<rect x="576" y="4" width="3" height="1" fill="#b4b4b4"/>
<rect x="576" y="6" width="3" height="1" fill="#b4b4b4"/>
<rect x="576" y="8" width="3" height="1" fill="#b4b4b4"/>
<rect x="576" y="10" width="3" height="1" fill="#b4b4b4"/>
<rect x="576" y="12" width="3" height="1" fill="#b4b4b4"/>
<rect x="576" y="14" width="3" height="1" fill="#b4b4b4"/>
<rect x="576" y="16" width="3" height="1" fill="#b4b4b4"/>
<rect x="576" y="18" width="3" height="1" fill="#b4b4b4"/>
<rect x="576" y="20" width="3" height="1" fill="#b4b4b4"/>
<rect x="878" y="0" width="1" height="24" fill="#a0a0a0"/>
<rect x="879" y="0" width="1" height="24" fill="#fff"/>
<rect x="882" y="2" width="3" height="1" fill="#b4b4b4"/>
<rect x="882" y="4" width="3" height="1" fill="#b4b4b4"/>
<rect x="882" y="6" width="3" height="1" fill="#b4b4b4"/>
<rect x="882" y="8" width="3" height="1" fill="#b4b4b4"/>
<rect x="882" y="10" width="3" height="1" fill="#b4b4b4"/>
<rect x="882" y="12" width="3" height="1" fill="#b4b4b4"/>
<rect x="882" y="14" width="3" height="1" fill="#b4b4b4"/>
<rect x="882" y="16" width="3" height="1" fill="#b4b4b4"/>
<rect x="882" y="18" width="3" height="1" fill="#b4b4b4"/>
<rect x="882" y="20" width="3" height="1" fill="#b4b4b4"/>
<rect x="1139" y="0" width="1" height="24" fill="#a0a0a0"/>
<rect x="1140" y="0" width="1" height="24" fill="#fafafa"/>
<rect x="299" y="1" width="1" height="21" fill="#a0a0a0"/>
<rect x="389" y="1" width="1" height="21" fill="#a0a0a0"/>
<rect x="451" y="1" width="1" height="21" fill="#a0a0a0"/>
<rect x="639" y="1" width="1" height="21" fill="#a0a0a0"/>
<rect x="222" y="6" width="1" height="14" fill="#555555"/>
<rect x="221" y="7" width="3" height="1" fill="#555555"/>
<rect x="220" y="17" width="13" height="1" fill="#555555"/>
<rect x="232" y="16" width="1" height="3" fill="#555555"/>
<rect x="233" y="17" width="1" height="1" fill="#555555"/>
<rect x="250" y="6" width="1" height="14" fill="#555555"/>
<rect x="249" y="7" width="3" height="1" fill="#555555"/>
<rect x="248" y="17" width="13" height="1" fill="#555555"/>
<rect x="260" y="16" width="1" height="3" fill="#555555"/>
<rect x="261" y="17" width="1" height="1" fill="#555555"/>
<rect x="278" y="6" width="1" height="14" fill="#555555"/>
<rect x="277" y="7" width="3" height="1" fill="#555555"/>
<rect x="276" y="17" width="13" height="1" fill="#555555"/>
<rect x="288" y="16" width="1" height="3" fill="#555555"/>
<rect x="289" y="17" width="1" height="1" fill="#555555"/>
<rect x="402" y="6" width="1" height="14" fill="#555555"/>
<rect x="401" y="7" width="3" height="1" fill="#555555"/>
<rect x="400" y="17" width="13" height="1" fill="#555555"/>
<rect x="412" y="16" width="1" height="3" fill="#555555"/>
<rect x="413" y="17" width="1" height="1" fill="#555555"/>
<rect x="430" y="6" width="1" height="14" fill="#555555"/>
<rect x="429" y="7" width="3" height="1" fill="#555555"/>
<rect x="428" y="17" width="13" height="1" fill="#555555"/>
<rect x="440" y="16" width="1" height="3" fill="#555555"/>
<rect x="441" y="17" width="1" height="1" fill="#555555"/>
<rect x="228" y="7" width="1" height="9" fill="#0a8a0a"/>
<rect x="229" y="8" width="2" height="1" fill="#0a8a0a"/>
<rect x="226" y="14" width="2" height="1" fill="#0a8a0a"/>
<rect x="256" y="4" width="1" height="12" fill="#089a08"/>
<rect x="254" y="6" width="5" height="8" fill="#089a08"/>
<rect x="255" y="7" width="3" height="6" fill="#4fe86a"/>
<rect x="436" y="6" width="1" height="10" fill="#1a6aa0"/>
<rect x="622" y="5" width="1" height="6" fill="#484848"/>
<rect x="622" y="14" width="1" height="6" fill="#484848"/>
<rect x="615" y="12" width="6" height="1" fill="#484848"/>
<rect x="624" y="12" width="6" height="1" fill="#484848"/>
<rect x="622" y="12" width="1" height="1" fill="#b0a890"/>
<rect x="656" y="6" width="1" height="13" fill="#484848"/>
<rect x="679" y="12" width="12" height="1" fill="#484848"/>
<rect x="762" y="5" width="1" height="1" fill="#333"/>
<rect x="764" y="5" width="1" height="1" fill="#333"/>
<rect x="766" y="5" width="1" height="1" fill="#333"/>
<rect x="768" y="5" width="1" height="1" fill="#333"/>
<rect x="770" y="5" width="1" height="1" fill="#333"/>
<rect x="772" y="5" width="1" height="1" fill="#333"/>
<rect x="774" y="5" width="1" height="1" fill="#333"/>
<rect x="762" y="8" width="1" height="1" fill="#333"/>
<rect x="764" y="8" width="1" height="1" fill="#333"/>
<rect x="766" y="8" width="1" height="1" fill="#333"/>
<rect x="768" y="8" width="1" height="1" fill="#333"/>
<rect x="770" y="8" width="1" height="1" fill="#333"/>
<rect x="772" y="8" width="1" height="1" fill="#333"/>
<rect x="774" y="8" width="1" height="1" fill="#333"/>
<rect x="762" y="12" width="1" height="1" fill="#333"/>
<rect x="764" y="12" width="1" height="1" fill="#333"/>
<rect x="766" y="12" width="1" height="1" fill="#333"/>
<rect x="768" y="12" width="1" height="1" fill="#333"/>
<rect x="770" y="12" width="1" height="1" fill="#333"/>
<rect x="772" y="12" width="1" height="1" fill="#333"/>
<rect x="774" y="12" width="1" height="1" fill="#333"/>
<rect x="762" y="16" width="1" height="1" fill="#333"/>
<rect x="764" y="16" width="1" height="1" fill="#333"/>
<rect x="766" y="16" width="1" height="1" fill="#333"/>
<rect x="768" y="16" width="1" height="1" fill="#333"/>
<rect x="770" y="16" width="1" height="1" fill="#333"/>
<rect x="818" y="6" width="1" height="1" fill="#444"/>
<rect x="818" y="18" width="1" height="1" fill="#444"/>
<rect x="818" y="6" width="1" height="1" fill="#444"/>
<rect x="830" y="6" width="1" height="1" fill="#444"/>
<rect x="820" y="6" width="1" height="1" fill="#444"/>
<rect x="820" y="18" width="1" height="1" fill="#444"/>
<rect x="818" y="8" width="1" height="1" fill="#444"/>
<rect x="830" y="8" width="1" height="1" fill="#444"/>
<rect x="822" y="6" width="1" height="1" fill="#444"/>
<rect x="822" y="18" width="1" height="1" fill="#444"/>
<rect x="818" y="10" width="1" height="1" fill="#444"/>
<rect x="830" y="10" width="1" height="1" fill="#444"/>
<rect x="824" y="6" width="1" height="1" fill="#444"/>
<rect x="824" y="18" width="1" height="1" fill="#444"/>
<rect x="818" y="12" width="1" height="1" fill="#444"/>
<rect x="830" y="12" width="1" height="1" fill="#444"/>
<rect x="826" y="6" width="1" height="1" fill="#444"/>
<rect x="826" y="18" width="1" height="1" fill="#444"/>
<rect x="818" y="14" width="1" height="1" fill="#444"/>
<rect x="830" y="14" width="1" height="1" fill="#444"/>
<rect x="828" y="6" width="1" height="1" fill="#444"/>
<rect x="828" y="18" width="1" height="1" fill="#444"/>
<rect x="818" y="16" width="1" height="1" fill="#444"/>
<rect x="830" y="16" width="1" height="1" fill="#444"/>
<rect x="830" y="6" width="1" height="1" fill="#444"/>
<rect x="830" y="18" width="1" height="1" fill="#444"/>
<rect x="818" y="18" width="1" height="1" fill="#444"/>
<rect x="830" y="18" width="1" height="1" fill="#444"/>
<rect x="818" y="5" width="2" height="1" fill="#444"/>
<rect x="820" y="9" width="8" height="1" fill="#505050"/>
<rect x="823" y="9" width="2" height="8" fill="#505050"/>
<rect x="364" y="4" width="8" height="8" fill="#3a9e12"/>
<rect x="365" y="5" width="1" height="1" fill="#dfe8df"/>
<rect x="365" y="7" width="6" height="4" fill="#fff"/>
<rect x="366" y="8" width="4" height="1" fill="#a8dc90"/>
<rect x="367" y="10" width="2" height="1" fill="#3a9e12"/>
<rect x="372" y="4" width="8" height="8" fill="#1a46c6"/>
<rect x="373" y="5" width="1" height="1" fill="#dfe8df"/>
<rect x="373" y="7" width="6" height="4" fill="#fff"/>
<rect x="374" y="8" width="4" height="1" fill="#8fa8ee"/>
<rect x="375" y="10" width="2" height="1" fill="#1a46c6"/>
<rect x="364" y="12" width="8" height="8" fill="#1a46c6"/>
<rect x="365" y="13" width="1" height="1" fill="#dfe8df"/>
<rect x="365" y="15" width="6" height="4" fill="#fff"/>
<rect x="366" y="16" width="4" height="1" fill="#8fa8ee"/>
<rect x="367" y="18" width="2" height="1" fill="#1a46c6"/>
<rect x="372" y="12" width="8" height="8" fill="#3a9e12"/>
<rect x="373" y="13" width="1" height="1" fill="#dfe8df"/>
<rect x="373" y="15" width="6" height="4" fill="#fff"/>
<rect x="374" y="16" width="4" height="1" fill="#a8dc90"/>
<rect x="375" y="18" width="2" height="1" fill="#3a9e12"/>
<rect x="538" y="5" width="16" height="14" fill="#3a78c2"/>
<rect x="539" y="5" width="14" height="2" fill="#5b96dc"/>
<rect x="540" y="6" width="5" height="1" fill="#cfe4fa"/>
<rect x="539" y="8" width="14" height="5" fill="#fff"/>
<rect x="539" y="14" width="14" height="4" fill="#fff"/>
<rect x="540" y="11" width="2" height="1" fill="#9c2000"/>
<rect x="542" y="10" width="2" height="1" fill="#9c2000"/>
<rect x="544" y="9" width="2" height="1" fill="#9c2000"/>
<rect x="546" y="10" width="2" height="1" fill="#9c2000"/>
<rect x="548" y="10" width="1" height="1" fill="#9c2000"/>
<rect x="549" y="9" width="2" height="1" fill="#9c2000"/>
<rect x="541" y="16" width="2" height="1" fill="#0a8a0a"/>
<rect x="543" y="15" width="2" height="1" fill="#0a8a0a"/>
<rect x="545" y="16" width="2" height="1" fill="#0a8a0a"/>
<rect x="547" y="15" width="1" height="1" fill="#0a8a0a"/>
<rect x="548" y="14" width="2" height="1" fill="#0a8a0a"/>
<rect x="550" y="15" width="1" height="1" fill="#0a8a0a"/>
<rect x="551" y="16" width="1" height="1" fill="#0a8a0a"/>
</g>
<path d="M482.5,11 h6 l-3,3.2 z" fill="#000"/>
<path d="M521.5,11 h6 l-3,3.2 z" fill="#000"/>
<path d="M560.5,11 h6 l-3,3.2 z" fill="#000"/>
<path d="M866.5,11 h6 l-3,3.2 z" fill="#000"/>
<path d="M407.3,8 L411.2,11.6 L407.3,15.2 Z" fill="#5cf07a" stroke="#089a08" stroke-width="1" stroke-linejoin="round"/>
<path d="M277.2,14.8 C279.5,13.8 281,9.3 283.2,9.4 C285.3,9.5 286.5,12.4 288.8,13" fill="none" stroke="#2a9a2a" stroke-width="1.1"/>
<path d="M437.3,11.5 L440.3,9.2 L439.8,11 L442,11 L442,12 L439.8,12 L440.3,13.8 Z" fill="#e8640c" stroke="#a83200" stroke-width=".4"/>
<path d="M50.4,4.9 L51.8,5.5 L61,12.9 L61.1,14.6 L53.2,20 L51.6,19.7 L45.1,14.5 L45.1,13.2 L48.2,8.6 Z" fill="url(#gold)" stroke="#9c660a" stroke-width="1.1" stroke-linejoin="round"/>
<path d="M53,19.4 L60.6,14.2 L60.4,13.2 L52.8,18.2 Z" fill="#f3e6b0"/>
<path d="M45.6,14.3 L52.4,19.2" fill="none" stroke="#b87c10" stroke-width="1.3"/>
<path d="M46.2,13.3 L52.6,17.6" fill="none" stroke="#fbe68a" stroke-width="1"/>
<path d="M75.2,4.5 L80,4.3 L86,6.5 L86,14 L75.2,14 Z" fill="#0f8ff2"/><path d="M75.2,4.5 L78.5,7 L78.5,14" fill="none" stroke="#d8f0ff" stroke-width=".8"/><rect x="80" y="8" width="4.5" height="1.2" fill="#e8f6ff"/><rect x="80" y="10.6" width="4.5" height=".8" fill="#8cc8f8"/>
<path d="M75.5,19.6 C72.6,19.6 72.2,16 75,15.4 C75.2,13.2 78.2,12.6 79.4,14.2 C80.6,11.8 84.6,12.2 84.8,14.8 C88,13.8 90.4,17.6 87.6,19.6 Z" fill="url(#cloud)" stroke="#3d5fa6" stroke-width=".9"/>
<defs><linearGradient id="sg" x1="0" y1="0" x2="0" y2="1"><stop offset="0" stop-color="#dcebd8"/><stop offset=".55" stop-color="#8cc890"/><stop offset="1" stop-color="#2ea63a"/></linearGradient></defs>
<path d="M109,3.6 A8,8 0 0 1 109,19.6 Z" fill="url(#sg)"/>
<g fill="none" stroke="#f0f0f0" opacity=".7"><path d="M109,6 A5.6,5.6 0 0 1 109,17.2" stroke-width=".9"/><path d="M109,8.4 A3.2,3.2 0 0 1 109,14.8" stroke-width=".9"/></g>
<g fill="none" stroke="#3f6fd6"><path d="M110.5,3.9 A7.8,7.8 0 0 0 107,19.2" stroke-width="1" opacity=".85"/><path d="M110,6.3 A5.4,5.4 0 0 0 106.6,16.5" stroke-width="1" opacity=".6"/><path d="M109.6,8.6 A3.1,3.1 0 0 0 107.4,14.2" stroke-width=".9" opacity=".45"/></g>
<path d="M116.9,10 A8,8 0 0 1 109,19.6" fill="none" stroke="#2a8a58" stroke-width=".9" opacity=".8"/>
<rect x="108.9" y="12" width="1.3" height="8" fill="#22a020"/><circle cx="108.7" cy="11.2" r="2" fill="#2456d0"/>
<path d="M128.4,11.2 L143.6,11 L137.2,19.6 L135.2,19.6 Z" fill="#f6d84a" stroke="#c89a10" stroke-width=".8" stroke-linejoin="round"/>
<ellipse cx="136" cy="9" rx="8" ry="2.6" fill="#4aa6d8" stroke="#2a86b8" stroke-width=".6"/><path d="M132,8.6 C132,3 140.4,3 140.4,8.6 Z" fill="#62b8e6" stroke="#2a86b8" stroke-width=".6"/>
<circle cx="140.5" cy="15.8" r="4.2" fill="#e42c10"/><rect x="138.9" y="14.2" width="3.3" height="3.3" fill="#fff"/>
<path d="M318.3,14.0 L323,18.8" stroke="#b07a08" stroke-width="3.4" stroke-linecap="butt"/><path d="M318.6,14.3 L322.6,18.4" stroke="#f0d428" stroke-width="1.8"/>
<circle cx="314" cy="10" r="5.6" fill="url(#lens)" stroke="#2f72c4" stroke-width="1.1"/>
<rect x="310.6" y="9" width="6.8" height="2" fill="#4a90b6"/>
<rect x="313" y="6.6" width="2" height="6.8" fill="#4a90b6"/>
<path d="M346.3,14.0 L351,18.8" stroke="#b07a08" stroke-width="3.4" stroke-linecap="butt"/><path d="M346.6,14.3 L350.6,18.4" stroke="#f0d428" stroke-width="1.8"/>
<circle cx="342" cy="10" r="5.6" fill="url(#lens)" stroke="#2f72c4" stroke-width="1.1"/>
<rect x="338.6" y="9" width="6.8" height="2" fill="#4a90b6"/>
<path d="M461.7,4.9 L469.5,4.9 L472.7,8 L472.7,17.4 L461.7,17.4 Z" fill="#fff" stroke="#8c8c8c" stroke-width="1" stroke-linejoin="round"/><path d="M469.5,4.9 L469.5,8 L472.7,8" fill="none" stroke="#8c8c8c" stroke-width=".8"/><path d="M466.6,7 C464.6,7 464.6,8.5 464.6,10 L464.6,15.5 M463.4,10.8 L466.6,10.8" stroke="#3a3420" stroke-width="1" fill="none"/>
<path d="M469.6,10.6 h3 v4 h4 v3 h-4 v4 h-3 v-4 h-4 v-3 h4 z" fill="#2ee04c" stroke="#0a8a0a" stroke-width="1" stroke-linejoin="miter"/>
<circle cx="507" cy="12" r="6.6" fill="#fdfdfd" stroke="url(#clk)" stroke-width="2.4"/><path d="M507.2,12.3 L506.2,8.6 M507,12 L509.6,12" stroke="#111" stroke-width="1.1" fill="none"/><g fill="#999"><circle cx="507" cy="7.6" r=".4"/><circle cx="511.4" cy="12" r=".4"/><circle cx="502.6" cy="12" r=".4"/><circle cx="507" cy="16.4" r=".4"/><circle cx="503.9" cy="8.9" r=".35"/><circle cx="510.1" cy="8.9" r=".35"/><circle cx="503.9" cy="15.1" r=".35"/><circle cx="510.1" cy="15.1" r=".35"/></g><rect x="506" y="14.2" width="2" height=".7" fill="#5aa0f0"/>
<path d="M590.2,5 L590.2,15.8 L592.9,13.4 L595.4,18.8 L597.2,18 L594.8,12.7 L598,12.5 Z" fill="#505050"/>
<path d="M707,18.8 L719,6.8" stroke="#484848" stroke-width="1.1"/>
<g stroke="#484848" fill="none"><path d="M732.6,13.7 L740.8,6.1 M738,18.9 L746.8,10.4 M734.2,17.2 L746.2,6" stroke-width=".9"/><path d="M735.6,11.4 L735.3,18.4 M738.6,9 L738.3,16 M741.7,7.4 L741.4,14 M744.7,4.2 L744.4,11.2" stroke-width="1.25"/></g>
<path d="M849.5,6 L853,9.6 L851.2,9.6 L851.2,10.9 L847.8,10.9 L847.8,9.6 L846,9.6 Z" fill="#505050"/><path d="M856.6,18.9 L860,15.4 L858.2,15.4 L858.2,14.1 L855,14.1 L855,15.4 L853.2,15.4 Z" fill="#505050"/><path d="M848.3,13.5 L850.5,15.4 L854.8,10.4" fill="none" stroke="#505050" stroke-width="1.1"/>
<path d="M1606.6,12.5 L1602,16.8" stroke="#2a5ed0" stroke-width="2.3" stroke-linecap="round"/><circle cx="1609.6" cy="9.4" r="3.7" fill="#f3f3ff" stroke="#2a5ed0" stroke-width="1.2"/>
<path d="M1626.4,14 C1626.4,8.6 1636.4,8.6 1636.4,14 C1636.4,17.6 1633,18.2 1631.2,18.2 L1629.6,20.4 L1629.2,18 C1627.4,17.4 1626.4,16 1626.4,14 Z" fill="#dedee8" stroke="#a6a6a6" stroke-width=".9"/>
<circle cx="1640.7" cy="9.4" r="8.2" fill="url(#badge)"/>
<text x="1639.6" y="13.9" text-anchor="middle" style="font-family:'Liberation Serif',serif;font-weight:bold;font-size:13.6px;fill:#fff">1</text>
<text class="cj" x="-2.1" y="15.6">新订单</text>
<text class="cj" x="148.5" y="15.6">自动交易</text>
<text class="tf" transform="translate(899.9,16) scale(.97,1)" text-anchor="middle">M1</text>
<text class="tf" transform="translate(928,16) scale(.97,1)" text-anchor="middle">M5</text>
<text class="tf" transform="translate(956.4,16) scale(.97,1)" text-anchor="middle">M15</text>
<text class="tf" transform="translate(984.3,16) scale(.97,1)" text-anchor="middle">M30</text>
<text class="tf" transform="translate(1012.2,16) scale(.97,1)" text-anchor="middle">H1</text>
<text class="tf" transform="translate(1039.7,16) scale(.97,1)" text-anchor="middle">H4</text>
<text class="tf" transform="translate(1068.4,16) scale(.97,1)" text-anchor="middle">D1</text>
<text class="tf" transform="translate(1097,16) scale(.97,1)" text-anchor="middle">W1</text>
<text class="tf" transform="translate(1124,16) scale(.97,1)" text-anchor="middle">MN</text>
<text transform="translate(796.6,16.9) scale(.95,1)" text-anchor="middle" style="font-family:'Liberation Sans',sans-serif;font-size:12.2px;fill:#505050;stroke:#505050;stroke-width:.3px">A</text>
<text x="743.8" y="20.8" style="font-family:'Liberation Sans',sans-serif;font-weight:bold;font-size:6.6px;fill:#333">E</text>
<text x="771.8" y="20.8" style="font-family:'Liberation Sans',sans-serif;font-weight:bold;font-size:6.6px;fill:#333">F</text>
</svg></body></html>
